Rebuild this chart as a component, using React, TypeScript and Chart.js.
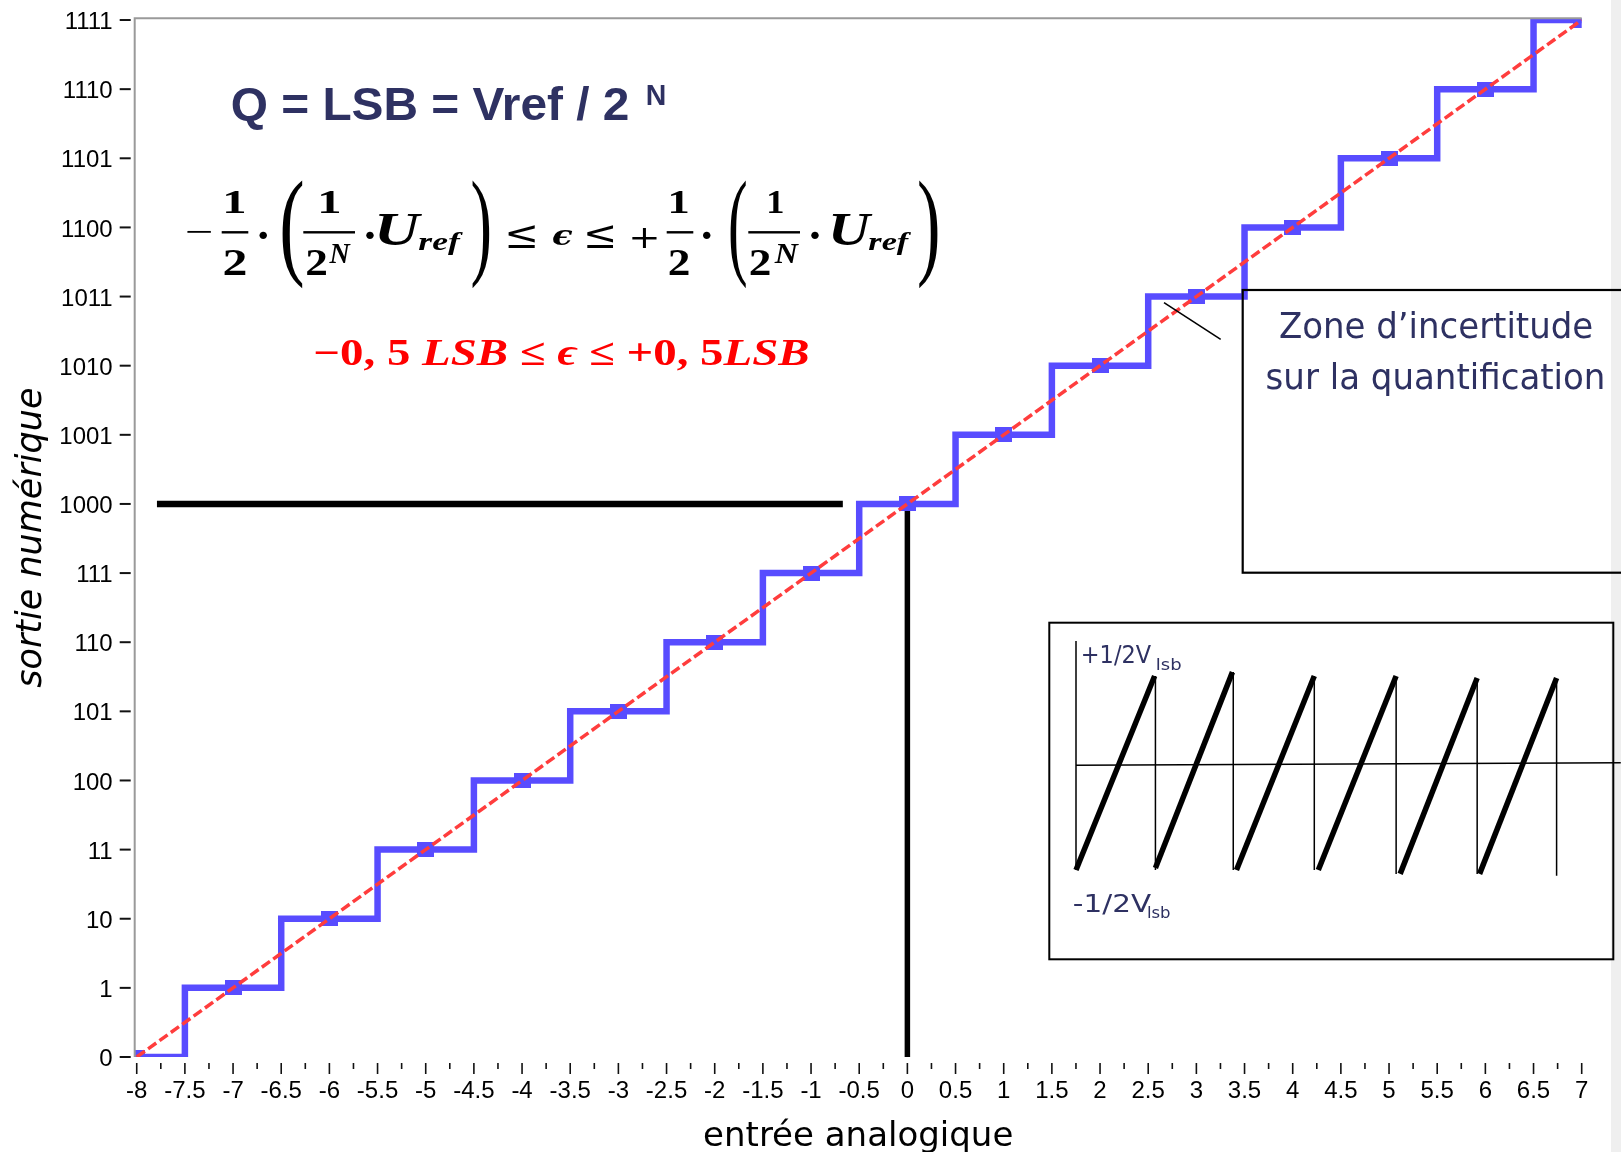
import React, { useEffect, useRef } from 'react';
import { Chart, registerables } from 'chart.js';

Chart.register(...registerables);

// ---------- data (main chart) ----------
const inputCenters = [-8, -7, -6, -5, -4, -3, -2, -1, 0, 1, 2, 3, 4, 5, 6, 7];
const outputCodes = [0, 1, 2, 3, 4, 5, 6, 7, 8, 9, 10, 11, 12, 13, 14, 15];
const codeLabels = ['0', '1', '10', '11', '100', '101', '110', '111', '1000', '1001', '1010', '1011', '1100', '1101', '1110', '1111'];
const xTickValues = [-8, -7.5, -7, -6.5, -6, -5.5, -5, -4.5, -4, -3.5, -3, -2.5, -2, -1.5, -1, -0.5, 0, 0.5, 1, 1.5, 2, 2.5, 3, 3.5, 4, 4.5, 5, 5.5, 6, 6.5, 7];
const xTickLabels = ['-8', '-7.5', '-7', '-6.5', '-6', '-5.5', '-5', '-4.5', '-4', '-3.5', '-3', '-2.5', '-2', '-1.5', '-1', '-0.5', '0', '0.5', '1', '1.5', '2', '2.5', '3', '3.5', '4', '4.5', '5', '5.5', '6', '6.5', '7'];
const idealX = [-8, 7];
const idealY = [0, 15];
const midLevelX = [-7.79, -0.67];
const midLevelY = [8, 8];
const zeroInputX = [0, 0];
const zeroInputY = [0, 8];

// ---------- data (inset: quantization error sawtooth) ----------
const toothStartX = [0, 0.99, 2.0, 3.02, 4.04, 5.03];
const toothEndX = [0.98, 1.95, 2.97, 3.99, 5.0, 5.99];
const toothLow = [-0.5, -0.49, -0.5, -0.5, -0.52, -0.52];
const toothHigh = [0.5, 0.52, 0.5, 0.5, 0.49, 0.49];
const resetX = [0.99, 1.96, 2.97, 3.99, 5.0, 5.99];
const resetHigh = [0.5, 0.52, 0.5, 0.49, 0.48, 0.48];
const resetLow = [-0.5, -0.5, -0.5, -0.52, -0.52, -0.53];
const insetAxisX = [0, 6.79];
const insetAxisY = [0.04, 0.053];
const insetVertX = [0, 0];
const insetVertY = [0.68, -0.5];

// ---------- styles ----------
const NAVY = '#2e3162';
const BLUE = '#584cff';
const RED = '#ff3d3d';
const COND = '"DejaVu Sans Condensed", "Liberation Sans Narrow", "DejaVu Sans", sans-serif';
const SANS = '"DejaVu Sans", sans-serif';
const TICKF = '"Liberation Sans", Arial, sans-serif';
const SERIF = '"Liberation Serif", "DejaVu Serif", serif';
const MATH = '"DejaVu Serif", "Liberation Serif", serif';

function fitWidth(ctx: CanvasRenderingContext2D, text: string, font: string, color: string, left: number, right: number, baseline: number) {
  ctx.save();
  ctx.font = font;
  ctx.fillStyle = color;
  ctx.textAlign = 'left';
  ctx.textBaseline = 'alphabetic';
  const m = ctx.measureText(text);
  const w = m.actualBoundingBoxLeft + m.actualBoundingBoxRight;
  const sx = (right - left) / w;
  ctx.translate(left, baseline);
  ctx.scale(sx, 1);
  ctx.fillText(text, m.actualBoundingBoxLeft, 0);
  ctx.restore();
}

function fitBox(ctx: CanvasRenderingContext2D, text: string, font: string, color: string, left: number, right: number, top: number, bottom: number) {
  ctx.save();
  ctx.font = font;
  ctx.fillStyle = color;
  ctx.textAlign = 'left';
  ctx.textBaseline = 'alphabetic';
  const m = ctx.measureText(text);
  const w = m.actualBoundingBoxLeft + m.actualBoundingBoxRight;
  const h = m.actualBoundingBoxAscent + m.actualBoundingBoxDescent;
  ctx.translate(left, top);
  ctx.scale((right - left) / w, (bottom - top) / h);
  ctx.fillText(text, m.actualBoundingBoxLeft, m.actualBoundingBoxAscent);
  ctx.restore();
}

function centerAt(ctx: CanvasRenderingContext2D, text: string, font: string, color: string, cx: number, cy: number) {
  ctx.save();
  ctx.font = font;
  ctx.fillStyle = color;
  ctx.textAlign = 'left';
  ctx.textBaseline = 'alphabetic';
  const m = ctx.measureText(text);
  const w = m.actualBoundingBoxLeft + m.actualBoundingBoxRight;
  const h = m.actualBoundingBoxAscent + m.actualBoundingBoxDescent;
  ctx.fillText(text, cx - w / 2 + m.actualBoundingBoxLeft, cy - h / 2 + m.actualBoundingBoxAscent);
  ctx.restore();
}

const F_DIG = `bold 34px ${SERIF}`;
const F_PAREN = `normal 60px ${SERIF}`;
const F_U = `bold italic 46px ${SERIF}`;
const F_REF = `bold italic 30px ${SERIF}`;
const F_N = `bold italic 24px ${SERIF}`;
const F_OP = `normal 34px ${MATH}`;
const F_EPS = `bold italic 34px ${MATH}`;

const formulaGlyphs: [string, string, number, number, number, number][] = [
  ['\u2212', `normal 36px ${MATH}`, 186.7, 211.7, 230.8, 233.4],
  ['1', F_DIG, 225, 245, 191.7, 213.3],
  ['2', F_DIG, 224, 246, 250, 275],
  ['(', F_PAREN, 281.7, 303.3, 180, 288.3],
  ['1', F_DIG, 320, 340, 191.7, 213.3],
  ['2', F_DIG, 306.7, 326.7, 250, 275],
  ['N', F_N, 328.3, 351.7, 245, 263.3],
  ['U', F_U, 378, 423, 213.3, 245],
  ['ref', F_REF, 418.3, 463.3, 231.7, 255],
  [')', F_PAREN, 471.7, 490, 180, 288.3],
  ['\u2264', F_OP, 508, 535, 225, 248],
  ['\u03f5', F_EPS, 553, 573, 230, 245],
  ['\u2264', F_OP, 586.7, 613.3, 225, 248],
  ['+', F_OP, 631.7, 656.7, 228.3, 248.3],
  ['1', F_DIG, 670, 688.3, 191.7, 213.3],
  ['2', F_DIG, 669, 689, 250, 275],
  ['(', F_PAREN, 730, 746.7, 180, 288.3],
  ['1', F_DIG, 768.3, 783.3, 191.7, 213.3],
  ['2', F_DIG, 750, 770, 250, 275],
  ['N', F_N, 773.3, 800, 245, 263.3],
  ['U', F_U, 831.7, 873.3, 213.3, 245],
  ['ref', F_REF, 868.3, 911.7, 231.7, 255],
  [')', F_PAREN, 918.3, 938.3, 180, 288.3],
];
const formulaDots = [[263.3, 235], [370, 235], [706.7, 235], [815, 235]];
const formulaBars = [[221.7, 248.3], [303.3, 355], [666.7, 693.3], [748.3, 800]];

const redSegments: [string, string][] = [
  ['\u22120, 5 ', 'bold'],
  ['LSB', 'bold italic'],
  [' \u2264 ', 'bold'],
  ['\u03f5', 'bold italic'],
  [' \u2264 +0, 5', 'bold'],
  ['LSB', 'bold italic'],
];

const decorPlugin = {
  id: 'decor',
  beforeDraw(chart: any) {
    const ctx = chart.ctx as CanvasRenderingContext2D;
    ctx.save();
    ctx.fillStyle = '#efefef';
    ctx.fillRect(1611, 0, 10, chart.height);
    ctx.restore();
  },
  afterDraw(chart: any) {
    const ctx = chart.ctx as CanvasRenderingContext2D;
    const a = chart.chartArea;
    const xs = chart.scales.x;
    const ys = chart.scales.y;
    ctx.save();
    // frame (left + top)
    ctx.strokeStyle = '#9a9a9a';
    ctx.lineWidth = 2;
    ctx.beginPath();
    ctx.moveTo(a.left, a.bottom);
    ctx.lineTo(a.left, a.top);
    ctx.lineTo(a.right, a.top);
    ctx.stroke();
    // y tick dashes
    ctx.strokeStyle = '#111';
    ctx.lineWidth = 2;
    outputCodes.forEach((v) => {
      const py = ys.getPixelForValue(v);
      ctx.beginPath();
      ctx.moveTo(a.left - 15, py);
      ctx.lineTo(a.left - 4, py);
      ctx.stroke();
    });
    // x tick marks (major + minor)
    ctx.lineWidth = 1.6;
    xTickValues.forEach((v, i) => {
      const px = xs.getPixelForValue(v);
      ctx.beginPath();
      ctx.moveTo(px, a.bottom + 6);
      ctx.lineTo(px, a.bottom + 17);
      ctx.stroke();
      if (i < xTickValues.length - 1) {
        const pm = xs.getPixelForValue((v + xTickValues[i + 1]) / 2);
        ctx.beginPath();
        ctx.moveTo(pm, a.bottom + 6);
        ctx.lineTo(pm, a.bottom + 12);
        ctx.stroke();
      }
    });

    // Q = LSB = Vref / 2 N
    fitWidth(ctx, 'Q = LSB = Vref / 2', `bold 47px "Liberation Sans", Arial, sans-serif`, NAVY, 231.7, 628.3, 120);
    fitBox(ctx, 'N', `bold 28px "Liberation Sans", Arial, sans-serif`, NAVY, 646.7, 665, 85, 105);

    // formula
    formulaGlyphs.forEach(([t, f, l, r, tp, b]) => fitBox(ctx, t, f, '#000', l, r, tp, b));
    formulaDots.forEach(([cx, cy]) => centerAt(ctx, '\u00b7', `bold 40px ${MATH}`, '#000', cx, cy));
    ctx.fillStyle = '#000';
    formulaBars.forEach(([l, r]) => ctx.fillRect(l, 231.1, r - l, 2.4));

    // red inequality
    ctx.save();
    let total = 0;
    const widths = redSegments.map(([t, st]) => {
      ctx.font = `${st} 37px ${SERIF}`;
      const w = ctx.measureText(t).width;
      total += w;
      return w;
    });
    const sx = (809.5 - 313.3) / total;
    ctx.translate(313.3, 365);
    ctx.scale(sx, 1);
    ctx.fillStyle = '#ff0000';
    ctx.textBaseline = 'alphabetic';
    ctx.textAlign = 'left';
    let cx = 0;
    redSegments.forEach(([t, st], i) => {
      ctx.font = `${st} 37px ${SERIF}`;
      ctx.fillText(t, cx, 0);
      cx += widths[i];
    });
    ctx.restore();

    // Zone d'incertitude box
    ctx.strokeStyle = '#000';
    ctx.lineWidth = 2.2;
    ctx.strokeRect(1242.7, 290, 400, 282.7);
    fitWidth(ctx, 'Zone d\u2019incertitude', `35px ${COND}`, NAVY, 1280, 1591.7, 338.3);
    fitWidth(ctx, 'sur la quantification', `35px ${COND}`, NAVY, 1266.7, 1603.3, 389.3);
    ctx.lineWidth = 1.6;
    ctx.beginPath();
    ctx.moveTo(1164, 302.7);
    ctx.lineTo(1220.7, 339.3);
    ctx.stroke();
    ctx.restore();
  },
};

const insetPlugin = {
  id: 'insetDecor',
  afterDraw(chart: any) {
    const ctx = chart.ctx as CanvasRenderingContext2D;
    ctx.save();
    ctx.strokeStyle = '#000';
    ctx.lineWidth = 2;
    ctx.strokeRect(1.3, 1.7, 564, 336.6);
    fitWidth(ctx, '+1/2V', `25px ${SANS}`, NAVY, 34.6, 103, 42);
    fitWidth(ctx, 'lsb', `15px ${SANS}`, NAVY, 109, 133, 49);
    fitWidth(ctx, '-1/2V', `25px ${SANS}`, NAVY, 26, 103, 290.7);
    fitWidth(ctx, 'lsb', `15px ${SANS}`, NAVY, 100, 122, 297);
    ctx.restore();
  },
};

export default function App() {
  const mainRef = useRef<HTMLCanvasElement>(null);
  const insetRef = useRef<HTMLCanvasElement>(null);

  useEffect(() => {
    const marker = document.createElement('canvas');
    marker.width = 17;
    marker.height = 15;
    const mc = marker.getContext('2d') as CanvasRenderingContext2D;
    mc.fillStyle = BLUE;
    mc.fillRect(0, 0, 17, 15);

    const steps = inputCenters.map((x, i) => ({ x, y: outputCodes[i] }));
    const main = new Chart(mainRef.current as HTMLCanvasElement, {
      type: 'line',
      data: {
        datasets: [
          {
            data: idealX.map((x, i) => ({ x, y: idealY[i] })),
            borderColor: RED,
            borderWidth: 3.5,
            borderDash: [10, 4],
            pointRadius: 0,
          },
          {
            data: steps,
            borderColor: BLUE,
            backgroundColor: BLUE,
            borderWidth: 6.5,
            stepped: 'middle',
            borderJoinStyle: 'miter',
            pointStyle: marker,
            pointRadius: 9,
            pointBorderWidth: 0,
            pointBackgroundColor: BLUE,
          },
          {
            data: midLevelX.map((x, i) => ({ x, y: midLevelY[i] })),
            borderColor: '#000',
            borderWidth: 6.5,
            pointRadius: 0,
          },
          {
            data: zeroInputX.map((x, i) => ({ x, y: zeroInputY[i] })),
            borderColor: '#000',
            borderWidth: 5.5,
            pointRadius: 0,
          },
        ],
      } as any,
      options: {
        responsive: false,
        animation: false,
        devicePixelRatio: 1,
        events: [],
        layout: { padding: { left: 0, top: 18.3, right: 39.3, bottom: 0 } },
        plugins: { legend: { display: false }, tooltip: { enabled: false } },
        scales: {
          x: {
            type: 'linear',
            min: -8.021,
            max: 7,
            grid: { display: false, drawTicks: false },
            border: { display: false },
            afterBuildTicks: (s: any) => {
              s.ticks = xTickValues.map((v) => ({ value: v }));
            },
            afterFit: (s: any) => {
              s.height = 95;
              s.paddingLeft = 0;
              s.paddingRight = 0;
            },
            ticks: {
              autoSkip: false,
              maxRotation: 0,
              minRotation: 0,
              padding: 20,
              color: '#000',
              font: { family: TICKF, size: 24 },
              callback: (_v: any, i: number) => xTickLabels[i],
            },
            title: {
              display: true,
              text: 'entr\u00e9e analogique',
              color: '#000',
              font: { family: SANS, size: 34, lineHeight: 0.9 },
              padding: { top: 0, bottom: 0 },
            },
          },
          y: {
            type: 'linear',
            min: 0,
            max: 15.025,
            grid: { display: false, drawTicks: false },
            border: { display: false },
            afterBuildTicks: (s: any) => {
              s.ticks = outputCodes.map((v) => ({ value: v }));
            },
            afterFit: (s: any) => {
              s.width = 134.7;
              s.paddingTop = 0;
              s.paddingBottom = 0;
            },
            ticks: {
              padding: 22,
              labelOffset: 2.5,
              color: '#000',
              font: { family: TICKF, size: 24 },
              callback: (_v: any, i: number) => codeLabels[i],
            },
            title: {
              display: true,
              text: 'sortie num\u00e9rique',
              color: '#000',
              font: { family: SANS, size: 35, style: 'italic' },
              padding: { top: 11, bottom: 0 },
            },
          },
        },
      } as any,
      plugins: [decorPlugin],
    });

    const insetDatasets: any[] = [];
    toothStartX.forEach((sx, i) => {
      insetDatasets.push({
        data: [{ x: sx, y: toothLow[i] }, { x: toothEndX[i], y: toothHigh[i] }],
        borderColor: '#000',
        borderWidth: 5.5,
        pointRadius: 0,
        clip: false,
      });
    });
    resetX.forEach((rx, i) => {
      insetDatasets.push({
        data: [{ x: rx, y: resetHigh[i] }, { x: rx, y: resetLow[i] }],
        borderColor: '#000',
        borderWidth: 1.5,
        pointRadius: 0,
        clip: false,
      });
    });
    insetDatasets.push({
      data: insetAxisX.map((x, i) => ({ x, y: insetAxisY[i] })),
      borderColor: '#000',
      borderWidth: 1.5,
      pointRadius: 0,
      clip: false,
    });
    insetDatasets.push({
      data: insetVertX.map((x, i) => ({ x, y: insetVertY[i] })),
      borderColor: '#000',
      borderWidth: 1.5,
      pointRadius: 0,
      clip: false,
    });

    const inset = new Chart(insetRef.current as HTMLCanvasElement, {
      type: 'line',
      data: { datasets: insetDatasets },
      options: {
        responsive: false,
        animation: false,
        devicePixelRatio: 1,
        events: [],
        layout: { padding: { left: 28, right: 63.6, top: 55, bottom: 91 } },
        plugins: { legend: { display: false }, tooltip: { enabled: false } },
        scales: {
          x: { type: 'linear', display: false, min: 0, max: 6 },
          y: { type: 'linear', display: false, min: -0.5, max: 0.5 },
        },
      } as any,
      plugins: [insetPlugin],
    });

    return () => {
      main.destroy();
      inset.destroy();
    };
  }, []);

  return (
    <div style={{ position: 'fixed', left: 0, top: 0, width: 1621, height: 1152, background: '#fff', overflow: 'hidden' }}>
      <canvas ref={mainRef} width={1621} height={1152} style={{ position: 'absolute', left: 0, top: 0, width: 1621, height: 1152 }} />
      <canvas ref={insetRef} width={573} height={340} style={{ position: 'absolute', left: 1048, top: 621, width: 573, height: 340 }} />
    </div>
  );
}
